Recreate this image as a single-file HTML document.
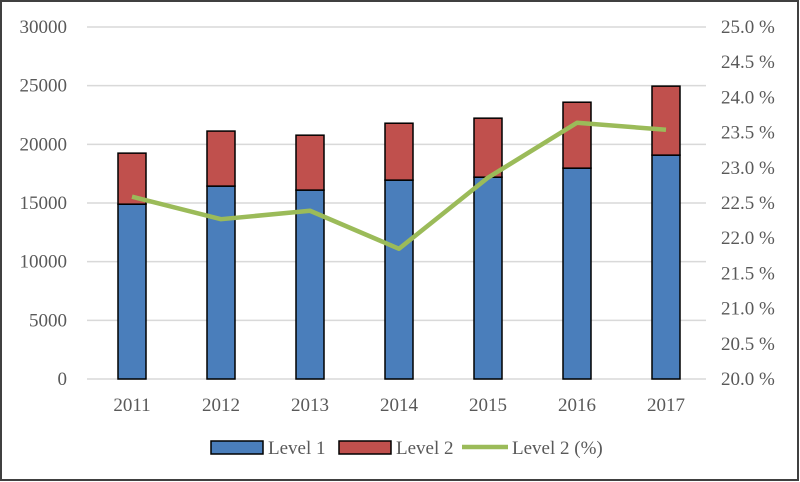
<!DOCTYPE html>
<html><head><meta charset="utf-8"><style>
html,body{margin:0;padding:0;background:#fff}
svg{display:block;font-family:"Liberation Serif",serif}
</style></head><body>
<svg id="chart" width="800" height="482">
<rect x="1" y="1" width="797" height="479" fill="#fff" stroke="#404040" stroke-width="2"/>
<g id="grid"></g><g id="bars"></g><g id="line"></g><g id="axes"></g><g id="legend"></g>
</svg>
<script>
const categories=["2011","2012","2013","2014","2015","2016","2017"];
const level1=[14900,16440,16100,16950,17200,17970,19080];
const level2=[4350,4690,4680,4850,5030,5620,5880];
const level2Pct=[22.59,22.27,22.39,21.85,22.86,23.64,23.54];
const leftTicks=[0,5000,10000,15000,20000,25000,30000];
const rightTicks=[20.0,20.5,21.0,21.5,22.0,22.5,23.0,23.5,24.0,24.5,25.0];
(function(){
const NS="http://www.w3.org/2000/svg";
const pTop=27,pBottom=379,pLeft=87,pRight=706;
const yL=v=>pBottom-(v/30000)*(pBottom-pTop);
const yR=v=>pBottom-((v-20)/5)*(pBottom-pTop);
const xC=i=>132+89*i;
const FS=19;
function mk(tag,attrs,parent,text){const e=document.createElementNS(NS,tag);for(const k in attrs)e.setAttribute(k,attrs[k]);if(text!==undefined)e.textContent=text;document.getElementById(parent).appendChild(e);return e;}
leftTicks.forEach(t=>{
 const g=mk("line",{x1:pLeft,x2:pRight,y1:yL(t),y2:yL(t),stroke:"#d9d9d9","stroke-width":1.5},"grid");
 
 
 const l=mk("text",{x:67,y:yL(t)+6,"text-anchor":"end","font-size":FS,fill:"#595959"},"axes",String(t));
 
 
});
rightTicks.forEach(t=>{
 const l=mk("text",{x:721,y:yR(t)+6,"font-size":FS,fill:"#595959"},"axes",t.toFixed(1)+" %");
 
 
});
const bw=28;
categories.forEach((c,i)=>{
 const x=xC(i)-bw/2;
 const b1=mk("rect",{x:x,y:yL(level1[i]),width:bw,height:pBottom-yL(level1[i]),fill:"#4a7ebb",stroke:"#000","stroke-width":1.5},"bars");
 
 
 const tot=level1[i]+level2[i];
 const b2=mk("rect",{x:x,y:yL(tot),width:bw,height:yL(level1[i])-yL(tot),fill:"#c0504d",stroke:"#000","stroke-width":1.5},"bars");
 
 
 const t=mk("text",{x:xC(i),y:411,"text-anchor":"middle","font-size":FS,fill:"#595959"},"axes",c);
 
 
});
const pl=mk("polyline",{points:level2Pct.map((v,i)=>xC(i)+","+yR(v)).join(" "),fill:"none",stroke:"#9bbb59","stroke-width":4.5,"stroke-linejoin":"round"},"line");


const l1=mk("rect",{x:211,y:441,width:52,height:13,fill:"#4a7ebb",stroke:"#000","stroke-width":1.5},"legend");


const t1=mk("text",{x:268,y:454,"font-size":FS,fill:"#595959"},"legend","Level 1");


const l2=mk("rect",{x:339,y:441,width:52,height:13,fill:"#c0504d",stroke:"#000","stroke-width":1.5},"legend");


const t2=mk("text",{x:396,y:454,"font-size":FS,fill:"#595959"},"legend","Level 2");


const l3=mk("line",{x1:462,x2:508,y1:447,y2:447,stroke:"#9bbb59","stroke-width":4.5},"legend");


const t3=mk("text",{x:512,y:454,"font-size":FS,fill:"#595959"},"legend","Level 2 (%)");


})();
</script>
</body></html>
